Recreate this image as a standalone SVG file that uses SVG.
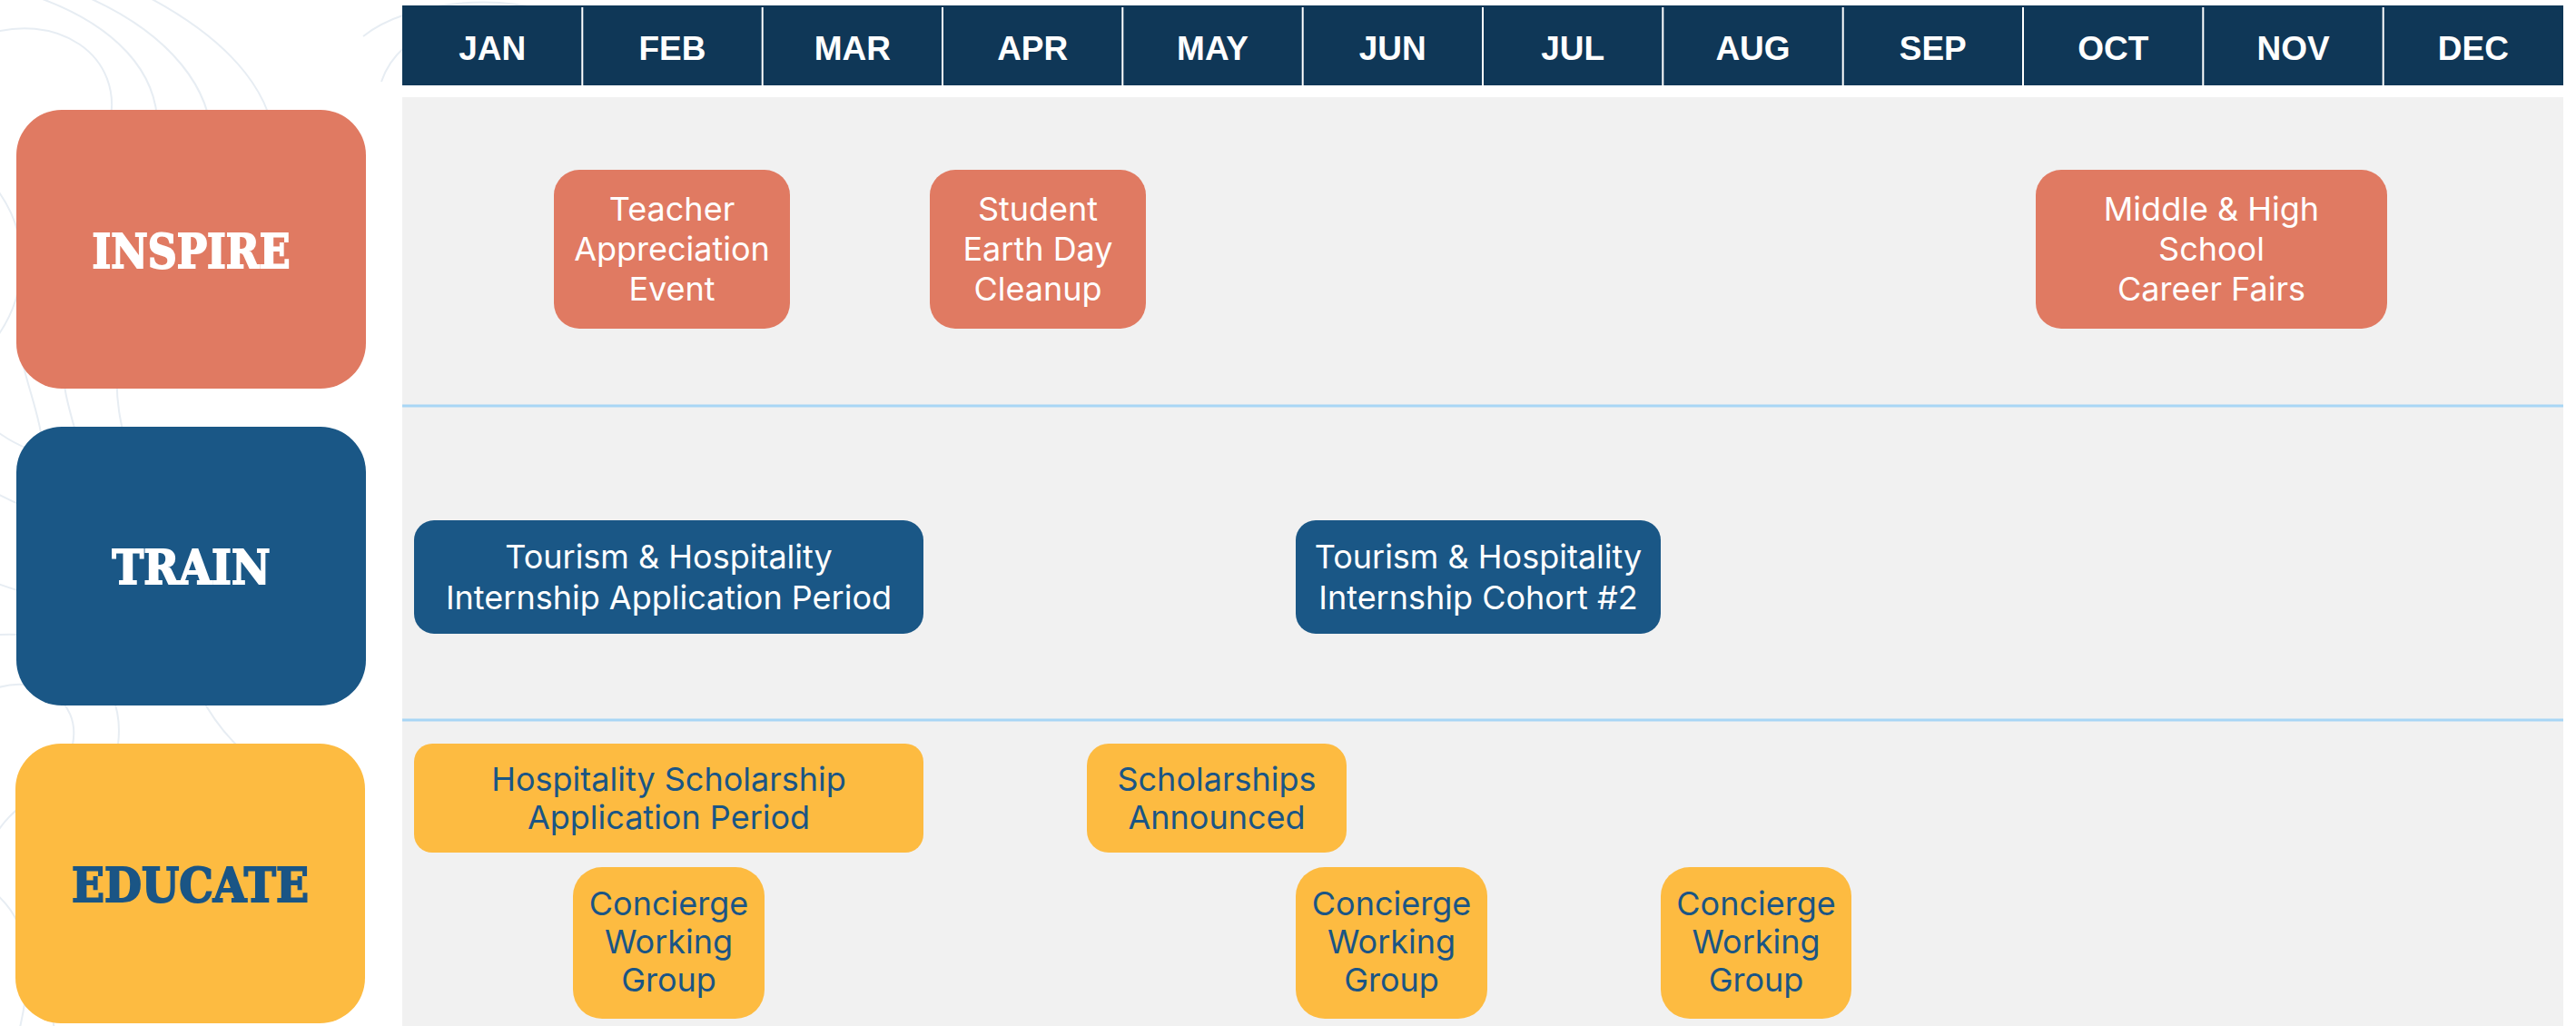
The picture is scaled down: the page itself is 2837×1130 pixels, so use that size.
<svg xmlns="http://www.w3.org/2000/svg" width="2837" height="1130" viewBox="0 0 2837 1130">
  <style>
    .month { font-family: "Liberation Sans", Arial, sans-serif; font-weight: bold; font-size: 37px; fill: #ffffff; text-anchor: middle; }
    .cat { font-family: "DejaVu Serif", "Liberation Serif", serif; font-weight: bold; font-size: 52px; text-anchor: middle; stroke-width: 2; stroke-linejoin: miter; }
    .ev { font-family: Inter, "Liberation Sans", sans-serif; font-size: 36px; text-anchor: middle; }
    .white { fill: #ffffff; }
    .cat.white { stroke: #ffffff; }
    .dark { fill: #1a5585; }
    .cat.dark { stroke: #1a5585; }
    .inspire { fill: #e07a62; }
    .train { fill: #1a5786; }
    .educate { fill: #fdbb41; }
    .topo { fill: none; stroke: #e7edf3; stroke-width: 2; }
    .sep { stroke: #a8d6f5; stroke-width: 3; }
    .div { stroke: #ffffff; stroke-width: 2; }
  </style>
  <rect x="0" y="0" width="2837" height="1130" fill="#ffffff"/>

  <g id="background-contours">
    <path class="topo" d="M-20 40 C60 10 140 60 120 140 C100 230 30 250 20 330 C10 420 70 470 40 560"/>
    <path class="topo" d="M20 -10 C120 20 190 80 170 170 C150 260 80 290 70 380 C60 460 120 520 90 600"/>
    <path class="topo" d="M80 -10 C180 30 250 100 230 190 C210 280 140 320 130 400 C120 480 170 540 150 620"/>
    <path class="topo" d="M150 -10 C250 40 320 110 300 200"/>
    <path class="topo" d="M-10 200 C40 260 30 330 -10 380"/>
    <path class="topo" d="M-10 470 C50 520 120 500 180 560 C240 620 230 700 300 760"/>
    <path class="topo" d="M-10 540 C60 580 110 570 160 630 C200 690 200 760 260 820"/>
    <path class="topo" d="M-10 640 C40 660 80 660 110 700"/>
    <path class="topo" d="M-10 760 C40 740 90 770 80 820 C70 870 10 880 -10 930"/>
    <path class="topo" d="M-10 700 C70 690 140 740 130 820 C120 900 40 930 30 1010 C25 1060 60 1100 60 1140"/>
    <path class="topo" d="M-10 980 C30 1010 40 1060 20 1140"/>
    <path class="topo" d="M400 40 C450 0 560 -10 620 20"/>
    <path class="topo" d="M420 90 C440 30 520 10 580 30"/>
  </g>

  <g id="header">
    <rect x="443" y="6" width="2380" height="88" fill="#0f3757"/>
    <line class="div" x1="641.3" y1="8" x2="641.3" y2="94"/>
    <line class="div" x1="839.7" y1="8" x2="839.7" y2="94"/>
    <line class="div" x1="1038" y1="8" x2="1038" y2="94"/>
    <line class="div" x1="1236.3" y1="8" x2="1236.3" y2="94"/>
    <line class="div" x1="1434.7" y1="8" x2="1434.7" y2="94"/>
    <line class="div" x1="1633" y1="8" x2="1633" y2="94"/>
    <line class="div" x1="1831.3" y1="8" x2="1831.3" y2="94"/>
    <line class="div" x1="2029.7" y1="8" x2="2029.7" y2="94"/>
    <line class="div" x1="2228" y1="8" x2="2228" y2="94"/>
    <line class="div" x1="2426.3" y1="8" x2="2426.3" y2="94"/>
    <line class="div" x1="2624.7" y1="8" x2="2624.7" y2="94"/>
    <text class="month" x="542.2" y="66">JAN</text>
    <text class="month" x="740.5" y="66">FEB</text>
    <text class="month" x="938.8" y="66">MAR</text>
    <text class="month" x="1137.2" y="66">APR</text>
    <text class="month" x="1335.5" y="66">MAY</text>
    <text class="month" x="1533.8" y="66">JUN</text>
    <text class="month" x="1732.2" y="66">JUL</text>
    <text class="month" x="1930.5" y="66">AUG</text>
    <text class="month" x="2128.8" y="66">SEP</text>
    <text class="month" x="2327.2" y="66">OCT</text>
    <text class="month" x="2525.5" y="66">NOV</text>
    <text class="month" x="2723.8" y="66">DEC</text>
  </g>

  <g id="panel">
    <rect x="443" y="107" width="2380" height="1023" fill="#f1f1f1"/>
    <line class="sep" x1="443" y1="447" x2="2823" y2="447"/>
    <line class="sep" x1="443" y1="793" x2="2823" y2="793"/>
  </g>

  <g id="cat-inspire">
    <rect class="inspire" x="18" y="121" width="385" height="307" rx="50" ry="50"/>
    <text class="cat white" x="210.5" y="295" textLength="218" lengthAdjust="spacingAndGlyphs">INSPIRE</text>
  </g>
  <g id="cat-train">
    <rect class="train" x="18" y="470" width="385" height="307" rx="50" ry="50"/>
    <text class="cat white" x="210.5" y="643" textLength="174" lengthAdjust="spacingAndGlyphs">TRAIN</text>
  </g>
  <g id="cat-educate">
    <rect class="educate" x="17" y="819" width="385" height="308" rx="50" ry="50"/>
    <text class="cat dark" x="209.5" y="993" textLength="261" lengthAdjust="spacingAndGlyphs">EDUCATE</text>
  </g>

  <g id="ev-teacher">
    <rect class="inspire" x="610" y="187" width="260" height="175" rx="28"/>
    <text class="ev white" x="740" y="243">Teacher</text>
    <text class="ev white" x="740" y="287">Appreciation</text>
    <text class="ev white" x="740" y="331">Event</text>
  </g>
  <g id="ev-earthday">
    <rect class="inspire" x="1024" y="187" width="238" height="175" rx="28"/>
    <text class="ev white" x="1143" y="243">Student</text>
    <text class="ev white" x="1143" y="287">Earth Day</text>
    <text class="ev white" x="1143" y="331">Cleanup</text>
  </g>
  <g id="ev-careerfairs">
    <rect class="inspire" x="2242" y="187" width="387" height="175" rx="28"/>
    <text class="ev white" x="2435.5" y="243">Middle &amp; High</text>
    <text class="ev white" x="2435.5" y="287">School</text>
    <text class="ev white" x="2435.5" y="331">Career Fairs</text>
  </g>

  <g id="ev-internship-app">
    <rect class="train" x="456" y="573" width="561" height="125" rx="22"/>
    <text class="ev white" x="736.5" y="626">Tourism &amp; Hospitality</text>
    <text class="ev white" x="736.5" y="671">Internship Application Period</text>
  </g>
  <g id="ev-cohort2">
    <rect class="train" x="1427" y="573" width="402" height="125" rx="22"/>
    <text class="ev white" x="1628" y="626">Tourism &amp; Hospitality</text>
    <text class="ev white" x="1628" y="671">Internship Cohort #2</text>
  </g>

  <g id="ev-scholarship-app">
    <rect class="educate" x="456" y="819" width="561" height="120" rx="20"/>
    <text class="ev dark" x="736.5" y="871">Hospitality Scholarship</text>
    <text class="ev dark" x="736.5" y="913">Application Period</text>
  </g>
  <g id="ev-scholarships-announced">
    <rect class="educate" x="1197" y="819" width="286" height="120" rx="24"/>
    <text class="ev dark" x="1340" y="871">Scholarships</text>
    <text class="ev dark" x="1340" y="913">Announced</text>
  </g>
  <g id="ev-concierge-1">
    <rect class="educate" x="631" y="955" width="211" height="167" rx="32"/>
    <text class="ev dark" x="736.5" y="1008">Concierge</text>
    <text class="ev dark" x="736.5" y="1050">Working</text>
    <text class="ev dark" x="736.5" y="1092">Group</text>
  </g>
  <g id="ev-concierge-2">
    <rect class="educate" x="1427" y="955" width="211" height="167" rx="32"/>
    <text class="ev dark" x="1532.5" y="1008">Concierge</text>
    <text class="ev dark" x="1532.5" y="1050">Working</text>
    <text class="ev dark" x="1532.5" y="1092">Group</text>
  </g>
  <g id="ev-concierge-3">
    <rect class="educate" x="1829" y="955" width="210" height="167" rx="32"/>
    <text class="ev dark" x="1934" y="1008">Concierge</text>
    <text class="ev dark" x="1934" y="1050">Working</text>
    <text class="ev dark" x="1934" y="1092">Group</text>
  </g>

  <g id="connectors"></g>
</svg>
